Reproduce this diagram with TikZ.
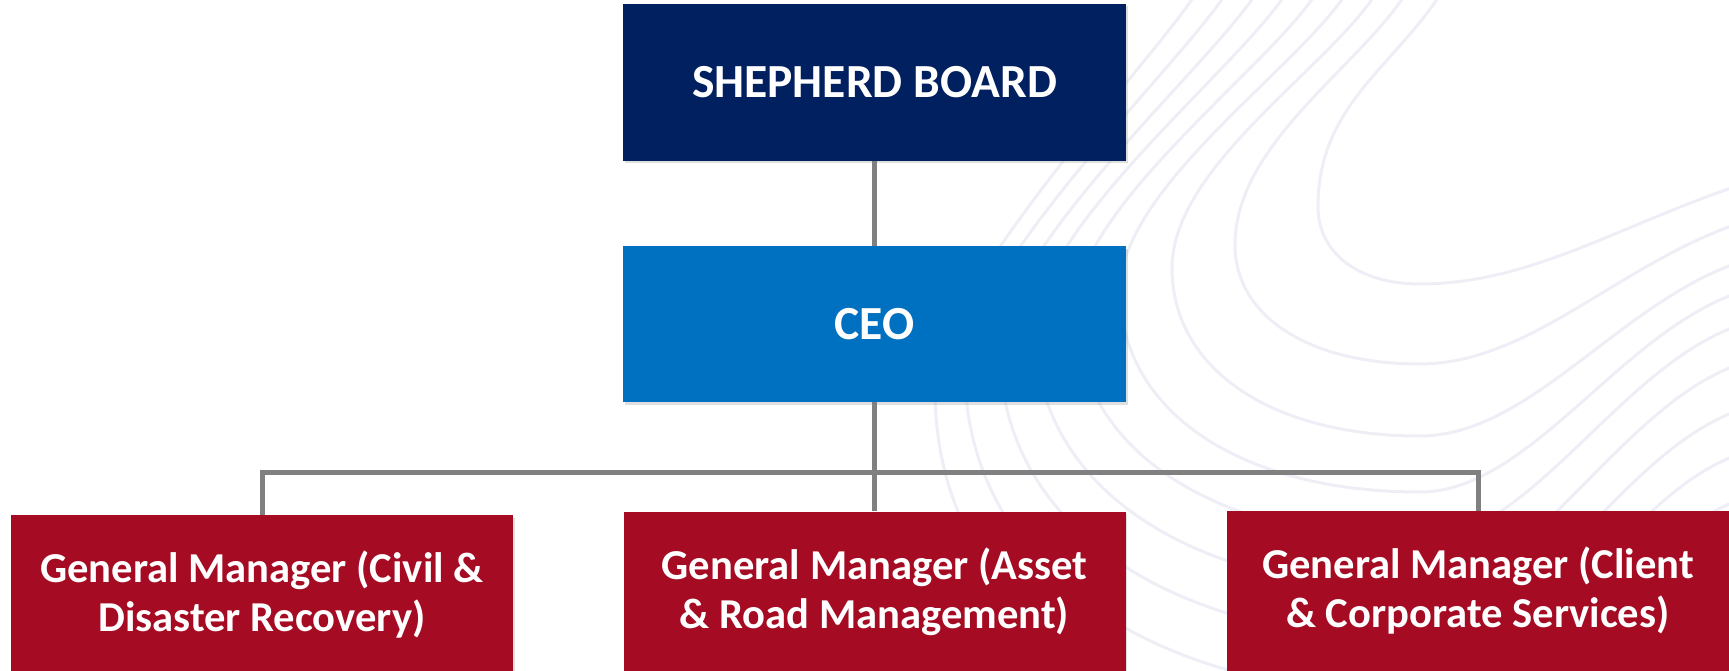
\documentclass[tikz,border=0pt]{standalone}
\usepackage{fontspec}
\setmainfont{Carlito}
\usetikzlibrary{shadows}
\definecolor{boardblue}{HTML}{002060}
\definecolor{ceoblue}{HTML}{0070C0}
\definecolor{gmred}{HTML}{A50B22}
\definecolor{linkgray}{HTML}{808080}
\definecolor{contour}{HTML}{EEEEF6}

\begin{document}
\begin{tikzpicture}[x=1pt,y=-1pt,
    box/.style={rectangle,inner sep=0pt,minimum width=503pt,text=white,
      font=\bfseries\fontsize{47.5}{56}\selectfont,
      drop shadow={shadow xshift=1.5pt,shadow yshift=-2.5pt,opacity=0.25}},
    gmbox/.style={box,fill=gmred,minimum width=502pt,minimum height=160pt,
      align=center,font=\bfseries\fontsize{42.6}{49}\selectfont},
    link/.style={draw=linkgray,line width=5pt}]
        \useasboundingbox (0,0) rectangle (1729,671);
        \clip (0,0) rectangle (1729,671);
        % faint contour lines behind the chart
        \foreach \tx/\nx/\ny/\by/\ry in {1440/1318/207/284/185,1405/1235/245/364/223,
            1375/1172/268/436/262,1345/1120/290/492/292,1315/1075/310/540/325,
            1285/1035/330/590/364,1255/1000/350/640/410,1225/965/370/695/454,
            1195/935/390/750/500}{
          \draw[contour,line width=3pt] (\tx,-5) .. controls ({\tx-50},70) and (\nx,{\ny-100}) .. (\nx,\ny)
            .. controls (\nx,{\ny+0.6*(\by-\ny)}) and ({\nx+0.4*(1420-\nx)},\by) .. (1420,\by)
            .. controls (1530,\by) and (1620,{\ry+40}) .. (1740,\ry);
        }
        \node[box,fill=boardblue,minimum height=157pt] (board) at (874.5,82.5) {SHEPHERD BOARD};
        \node[box,fill=ceoblue,minimum height=156pt] (ceo) at (874.5,324) {CEO};
        \node[gmbox] (civil) at (262,595) {General Manager (Civil \&\\Disaster Recovery)};
        \node[gmbox] (asset) at (874.5,591.5) {General Manager (Asset\\\& Road Management)};
        \node[gmbox] (client) at (1478,591) {General Manager (Client\\\& Corporate Services)};
        \coordinate (bus) at (874.5,472);
        \draw[link] (board) -- (ceo);
        \draw[link] (ceo) -- (asset);
        \draw[link] (civil.north) |- (bus) -| (client.north);
      \end{tikzpicture}
\end{document}
